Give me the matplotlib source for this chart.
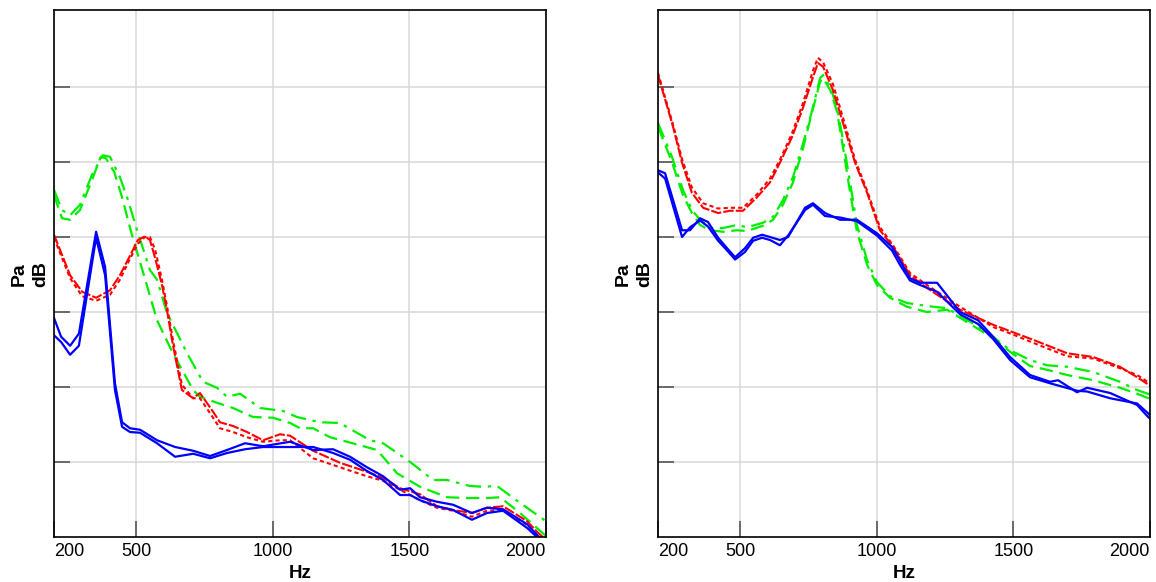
import matplotlib
matplotlib.use("Agg")
import matplotlib.pyplot as plt

plt.rcParams['font.family'] = ['Liberation Sans', 'DejaVu Sans']

# ---------------- Left panel data ----------------
L_blue_a_f = [200, 226, 259, 291, 354, 387, 423, 449, 478, 515, 577, 643, 709, 771, 833, 899, 965,
              1064, 1148, 1221, 1283, 1345, 1404, 1466, 1503, 1539, 1601, 1660, 1729, 1784, 1843,
              1931, 1967, 2000, 2050]
L_blue_a = [29.2, 26.7, 25.5, 27.1, 40.7, 36.0, 20.5, 15.3, 14.5, 14.3, 12.9, 12.0, 11.5, 10.8, 11.6,
            12.5, 12.1, 12.7, 11.6, 11.7, 10.7, 9.3, 8.1, 6.3, 6.5, 5.3, 4.7, 4.3, 3.2, 3.9, 3.7,
            1.7, 0.3, -1.1, -3.0]
L_blue_b = [26.9, 26.0, 24.3, 25.5, 39.9, 34.9, 19.6, 14.7, 14.0, 13.9, 12.5, 10.7, 11.1, 10.5, 11.2,
            11.7, 12.0, 12.0, 12.0, 11.2, 10.3, 8.8, 7.6, 5.6, 5.6, 4.9, 4.1, 3.6, 2.3, 3.2, 3.5,
            1.2, 0.0, -1.3, -3.2]

L_red_f = [200, 259, 303, 354, 405, 441, 478, 507, 533, 551, 570, 595, 613, 635, 668, 709, 734, 782,
           807, 855, 906, 965, 1027, 1064, 1148, 1246, 1345, 1404, 1466, 1539, 1601, 1660, 1729,
           1784, 1843, 1931, 1967, 2000, 2050]
L_red_a = [40.3, 34.9, 32.7, 31.9, 32.9, 34.9, 37.5, 39.6, 40.1, 39.6, 37.2, 33.6, 30.3, 25.6, 19.6,
           18.5, 19.2, 16.7, 15.3, 14.8, 14.0, 12.9, 13.7, 13.5, 11.5, 9.9, 8.7, 7.9, 6.5, 5.7, 4.1,
           3.6, 3.2, 3.9, 4.1, 2.1, 0.7, -0.4, -2.0]
L_red_b = [39.9, 34.5, 32.1, 31.5, 32.3, 34.3, 37.1, 39.1, 40.0, 40.0, 38.3, 34.3, 30.9, 26.3, 20.3,
           18.5, 18.5, 15.9, 14.5, 14.0, 13.3, 12.7, 12.9, 12.9, 10.5, 9.3, 8.1, 7.5, 6.3, 4.9, 3.9,
           3.5, 2.7, 3.5, 3.6, 1.6, 0.3, -0.8, -2.4]

L_green_u_f = [200, 229, 259, 295, 339, 379, 405, 441, 471, 504, 551, 577, 613, 687, 745, 796, 833,
               881, 954, 1038, 1089, 1173, 1246, 1356, 1404, 1503, 1587, 1638, 1722, 1770, 1821,
               1880, 2004, 2050]
L_green_u = [46.3, 43.6, 42.9, 44.3, 48.3, 50.9, 50.7, 48.0, 44.9, 40.9, 35.6, 34.3, 29.9, 24.5, 20.7,
             19.9, 18.7, 19.1, 17.2, 16.8, 16.0, 15.3, 15.2, 12.9, 12.5, 10.0, 7.6, 7.6, 6.8, 6.7,
             6.8, 5.2, 2.0, 0.8]
L_green_l_f = [200, 229, 259, 295, 339, 371, 390, 420, 449, 482, 529, 577, 635, 709, 734, 796, 855,
               928, 1001, 1064, 1100, 1148, 1210, 1272, 1382, 1455, 1539, 1638, 1711, 1784, 1832,
               1905, 2004, 2050]
L_green_l = [45.6, 42.5, 42.3, 43.6, 47.6, 50.7, 50.5, 48.7, 45.3, 40.7, 34.9, 28.9, 24.5, 19.6, 18.7,
             17.9, 17.2, 16.0, 15.9, 15.2, 14.5, 14.5, 13.3, 12.7, 11.6, 8.5, 6.7, 5.3, 5.2, 5.2,
             5.3, 3.2, 0.0, -1.2]

# ---------------- Right panel data ----------------
R_red_f = [200, 255, 288, 324, 365, 420, 463, 511, 562, 610, 646, 690, 731, 767, 785, 804, 840, 877,
           921, 965, 1012, 1060, 1122, 1184, 1305, 1426, 1499, 1572, 1697, 1792, 1890, 1953, 2008,
           2050]
R_red_a = [61.6, 54.7, 49.9, 45.9, 43.9, 43.2, 43.5, 43.5, 45.3, 47.3, 49.9, 53.3, 57.3, 61.3, 63.2,
           62.7, 59.6, 55.2, 49.9, 45.9, 40.9, 38.7, 34.9, 33.2, 30.3, 28.3, 27.3, 26.3, 24.5, 24.0,
           22.7, 21.3, 20.0, 19.2]
R_red_b = [61.9, 55.0, 50.4, 46.6, 44.5, 43.8, 43.9, 43.9, 45.7, 47.8, 50.3, 53.8, 57.9, 62.2, 63.9,
           63.3, 60.4, 55.9, 50.3, 46.2, 41.3, 38.9, 35.2, 33.6, 30.7, 28.0, 27.0, 25.9, 24.1, 23.8,
           22.5, 21.6, 20.3, 19.5]

R_blue_f = [200, 226, 288, 317, 354, 383, 420, 453, 482, 518, 548, 581, 610, 646, 676, 738, 767, 811,
            866, 928, 1001, 1056, 1085, 1122, 1159, 1221, 1305, 1371, 1426, 1488, 1561, 1634, 1664,
            1733, 1770, 1854, 1953, 1993, 2008, 2050]
R_blue_a = [48.9, 48.5, 40.9, 40.9, 42.5, 42.0, 39.9, 38.5, 37.3, 38.5, 39.9, 40.3, 40.0, 39.6, 40.0,
            43.9, 44.5, 43.2, 42.3, 42.3, 40.5, 38.7, 36.9, 34.5, 33.9, 33.9, 30.0, 28.9, 26.7, 24.0,
            21.6, 20.7, 20.9, 19.3, 19.9, 19.2, 17.6, 16.0, 15.6, 14.8]
R_blue_b = [48.6, 47.8, 40.0, 41.3, 42.2, 41.4, 39.5, 38.2, 37.0, 38.0, 39.5, 39.9, 39.6, 38.9, 40.2,
            43.6, 44.3, 42.8, 42.6, 42.1, 40.2, 38.2, 36.3, 34.2, 33.6, 32.7, 29.7, 28.4, 26.4, 23.6,
            21.3, 20.5, 20.2, 19.5, 19.4, 18.5, 17.8, 16.5, 15.9, 15.0]

R_green_f = [200, 251, 291, 324, 354, 390, 438, 489, 526, 584, 621, 657, 694, 731, 764, 793, 804, 830,
             855, 877, 903, 928, 965, 1001, 1049, 1111, 1184, 1258, 1342, 1426, 1488, 1561, 1623,
             1697, 1792, 1890, 1953, 2008, 2050]
R_green_u = [55.2, 50.7, 46.3, 43.6, 42.3, 41.2, 41.2, 41.6, 41.3, 41.9, 42.7, 44.9, 48.0, 52.5, 56.9,
             61.2, 61.6, 60.0, 57.3, 52.9, 47.2, 41.6, 36.9, 34.0, 32.1, 31.2, 30.8, 30.5, 28.7, 26.7,
             24.9, 23.6, 22.9, 22.7, 22.0, 20.7, 19.6, 18.9, 18.2]
R_green_l = [54.7, 50.0, 45.6, 43.2, 41.6, 40.9, 40.7, 40.9, 40.8, 41.5, 42.3, 44.3, 47.3, 51.9, 56.7,
             60.7, 61.2, 59.6, 56.7, 51.9, 45.9, 40.7, 36.3, 33.6, 31.9, 30.7, 30.0, 30.3, 28.4, 26.5,
             24.7, 22.8, 22.3, 21.6, 20.9, 19.9, 19.1, 18.3, 17.6]

x_ticks = [200, 500, 1000, 1500, 2000]
x_tick_labels = ['200', '500', '1000', '1500', '2000']
y_ticks = [10, 20, 30, 40, 50, 60]

BLUE = '#0000ff'
RED = '#ff0000'
GREEN = '#00ee00'

fig = plt.figure(figsize=(11.56, 5.82), dpi=100)
ax_l = fig.add_axes([54 / 1156, 45 / 582, 492 / 1156, 527 / 582])
ax_r = fig.add_axes([658 / 1156, 45 / 582, 492 / 1156, 527 / 582])


def style_axis(ax, ylabel_x):
    ax.set_xlim(200, 2000)
    ax.set_ylim(0, 70.27)
    ax.set_xticks(x_ticks, x_tick_labels)
    ax.set_yticks(y_ticks)
    ax.set_yticklabels([])
    ax.grid(True, color='#d9d9d9', linewidth=1.1, zorder=0)
    ax.set_axisbelow(True)
    ax.tick_params(axis='both', direction='in', length=11.5, width=1.2, color='#555555',
                   labelsize=13, pad=4)
    ax.tick_params(axis='y', left=True, right=False)
    ax.tick_params(axis='x', top=False)
    labels = ax.get_xticklabels()
    labels[0].set_ha('left')
    labels[-1].set_ha('right')
    for s in ax.spines.values():
        s.set_linewidth(1.2)
        s.set_color('black')
    ax.set_xlabel('Hz', fontsize=13.5, fontweight='bold', labelpad=4)
    fig.text(ylabel_x / 1156, (582 - 274) / 582, 'Pa\ndB', rotation=90, fontsize=14,
             fontweight='bold', ha='center', va='center', multialignment='center', linespacing=1.3)


# Left panel
ax_l.plot(L_green_u_f, L_green_u, color=GREEN, lw=1.6, ls=(0, (7, 3, 1.5, 3)))
ax_l.plot(L_green_l_f, L_green_l, color=GREEN, lw=1.6, ls=(0, (6, 3)))
ax_l.plot(L_red_f, L_red_a, color=RED, lw=1.5, ls=(0, (5, 1)))
ax_l.plot(L_red_f, L_red_b, color=RED, lw=1.5, ls=(0, (2, 1.5)))
ax_l.plot(L_blue_a_f, L_blue_a, color=BLUE, lw=1.6, ls='-')
ax_l.plot(L_blue_a_f, L_blue_b, color=BLUE, lw=1.6, ls='-')
style_axis(ax_l, 30)

# Right panel
ax_r.plot(R_green_f, R_green_u, color=GREEN, lw=1.6, ls=(0, (7, 3, 1.5, 3)))
ax_r.plot(R_green_f, R_green_l, color=GREEN, lw=1.6, ls=(0, (6, 3)))
ax_r.plot(R_red_f, R_red_a, color=RED, lw=1.5, ls=(0, (5, 1)))
ax_r.plot(R_red_f, R_red_b, color=RED, lw=1.5, ls=(0, (2, 1.5)))
ax_r.plot(R_blue_f, R_blue_a, color=BLUE, lw=1.6, ls='-')
ax_r.plot(R_blue_f, R_blue_b, color=BLUE, lw=1.6, ls='-')
style_axis(ax_r, 634)

fig.savefig('out.png', dpi=100)
